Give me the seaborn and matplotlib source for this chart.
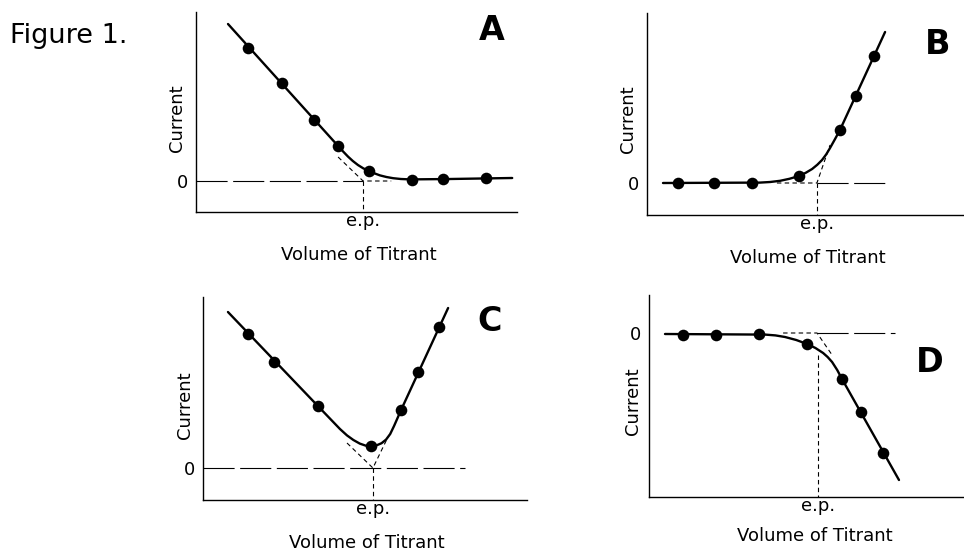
import matplotlib
matplotlib.use("Agg")
import matplotlib.pyplot as plt
import seaborn as sns

sns.set_theme(style="white")
plt.rcParams['font.family'] = ['DejaVu Sans']

# ---------------- data (x: volume of titrant, y: current; arbitrary units) ----------------
# Panel A
a_pts_x = [1.63, 2.69, 3.69, 4.44, 5.41, 6.75, 7.72, 9.06]
a_pts_y = [6.65, 4.90, 3.05, 1.75, 0.50, 0.05, 0.10, 0.15]
a_curve_x = [1.00, 4.44, 4.60, 4.75, 4.90, 5.06, 5.23, 5.41, 5.58, 5.75, 5.95, 6.16, 6.40, 6.69, 7.94, 9.88]
a_curve_y = [7.85, 1.75, 1.47, 1.22, 1.00, 0.80, 0.63, 0.50, 0.38, 0.28, 0.20, 0.14, 0.10, 0.08, 0.10, 0.15]
a_ext_x = [4.44, 5.22, 6.10]
a_ext_y = [1.20, 0.00, 0.00]
a_zero_x = [0.00, 5.22]
a_ep = 5.22
a_ep_top = 0.0

# Panel B
b_pts_x = [0.97, 2.09, 3.28, 4.75, 6.03, 6.53, 7.09]
b_pts_y = [0.00, 0.00, 0.00, 0.35, 2.65, 4.35, 6.35]
b_curve_x = [0.50, 3.53, 3.85, 4.16, 4.45, 4.75, 4.96, 5.16, 5.32, 5.47, 5.60, 5.72, 5.87, 6.03, 7.44]
b_curve_y = [0.00, 0.02, 0.05, 0.11, 0.21, 0.35, 0.51, 0.70, 0.91, 1.15, 1.43, 1.75, 2.18, 2.65, 7.55]
b_ext_x = [4.06, 5.31, 5.72]
b_ext_y = [0.00, 0.00, 1.90]
b_zero_x = [5.31, 7.50]
b_ep = 5.31
b_ep_top = 0.0

# Panel C
c_pts_x = [1.41, 2.22, 3.59, 5.25, 6.19, 6.72, 7.38]
c_pts_y = [6.70, 5.30, 3.10, 1.10, 2.90, 4.80, 7.05]
c_curve_x = [0.78, 3.59, 4.28, 4.50, 4.70, 4.90, 5.08, 5.25, 5.42, 5.58, 5.72, 5.85, 5.97, 6.19, 7.66]
c_curve_y = [7.80, 3.10, 1.95, 1.63, 1.40, 1.22, 1.12, 1.10, 1.13, 1.24, 1.42, 1.70, 2.10, 2.90, 8.00]
c_ext_x = [4.50, 5.31, 5.75]
c_ext_y = [1.25, 0.00, 1.45]
c_zero_x = [0.00, 8.19]
c_ep = 5.31
c_ep_top = 0.0

# Panel D
d_pts_x = [1.06, 2.09, 3.44, 4.94, 6.03, 6.63, 7.31]
d_pts_y = [-0.10, -0.10, -0.05, -0.55, -2.30, -3.95, -6.00]
d_curve_x = [0.50, 3.63, 3.95, 4.25, 4.60, 4.94, 5.20, 5.44, 5.58, 5.72, 5.88, 6.03, 7.81]
d_curve_y = [-0.05, -0.08, -0.12, -0.20, -0.35, -0.55, -0.75, -1.00, -1.20, -1.45, -1.85, -2.30, -7.35]
d_ext_x = [4.19, 5.25, 5.72]
d_ext_y = [0.00, 0.00, -1.10]
d_zero_x = [5.25, 7.69]
d_ep = 5.28
d_ep_top = -1.10

panel_letters = ["A", "B", "C", "D"]
x_label = "Volume of Titrant"
y_label = "Current"
ep_label = "e.p."
zero_label = "0"
fig_title = "Figure 1."

# ---------------- layout ----------------
W, H = 964, 551
fig = plt.figure(figsize=(W / 100, H / 100), dpi=100)
fig.patch.set_facecolor("white")


def box(left, top, right, bottom):
    return [left / W, 1 - bottom / H, (right - left) / W, (bottom - top) / H]


panels = [
    dict(letter=panel_letters[0], rect=box(196, 12, 517, 212), xlim=(0, 10.03), ylim=(-1.55, 8.45),
         pts=(a_pts_x, a_pts_y), curve=(a_curve_x, a_curve_y), ext=(a_ext_x, a_ext_y),
         zero=a_zero_x, ep=a_ep, ep_top=a_ep_top,
         lpos=(0.922, 0.905), ypos=(-0.059, 0.47), xpos=(0.508, -0.24)),
    dict(letter=panel_letters[1], rect=box(647, 13, 963, 215), xlim=(0, 9.875), ylim=(-1.6, 8.5),
         pts=(b_pts_x, b_pts_y), curve=(b_curve_x, b_curve_y), ext=(b_ext_x, b_ext_y),
         zero=b_zero_x, ep=b_ep, ep_top=b_ep_top,
         lpos=(0.921, 0.842), ypos=(-0.06, 0.475), xpos=(0.51, -0.238)),
    dict(letter=panel_letters[2], rect=box(203, 297, 527, 500), xlim=(0, 10.125), ylim=(-1.6, 8.55),
         pts=(c_pts_x, c_pts_y), curve=(c_curve_x, c_curve_y), ext=(c_ext_x, c_ext_y),
         zero=c_zero_x, ep=c_ep, ep_top=c_ep_top,
         lpos=(0.886, 0.877), ypos=(-0.056, 0.468), xpos=(0.506, -0.238)),
    dict(letter=panel_letters[3], rect=box(649, 295, 963, 497), xlim=(0, 9.81), ylim=(-8.2, 1.9),
         pts=(d_pts_x, d_pts_y), curve=(d_curve_x, d_curve_y), ext=(d_ext_x, d_ext_y),
         zero=d_zero_x, ep=d_ep, ep_top=d_ep_top,
         lpos=(0.895, 0.668), ypos=(-0.051, 0.475), xpos=(0.529, -0.218)),
]

for p in panels:
    ax = fig.add_axes(p["rect"])
    ax.set_facecolor("white")
    ax.set_xlim(*p["xlim"])
    ax.set_ylim(*p["ylim"])

    # reference (dashed) lines
    ax.plot(p["zero"], [0, 0], color="black", lw=0.8, dashes=(28, 5), zorder=1)
    ax.plot(p["ext"][0], p["ext"][1], color="black", lw=0.8, dashes=(4, 3), zorder=1)
    ax.plot([p["ep"], p["ep"]], [p["ep_top"], p["ylim"][0]], color="black", lw=0.8,
            dashes=(4, 3), zorder=1, clip_on=False)

    # smooth titration curve and measured points
    sns.lineplot(x=p["curve"][0], y=p["curve"][1], ax=ax, color="black", lw=1.7,
                 sort=False, estimator=None, zorder=2)
    sns.scatterplot(x=p["pts"][0], y=p["pts"][1], ax=ax, color="black", s=70,
                    linewidth=0, zorder=3)

    sns.despine(ax=ax)
    for side in ("left", "bottom"):
        ax.spines[side].set_color("black")
        ax.spines[side].set_linewidth(1.0)

    ax.set_xticks([p["ep"]])
    ax.set_xticklabels([ep_label])
    ax.set_yticks([0])
    ax.set_yticklabels([zero_label])
    ax.tick_params(axis="x", length=0, pad=0, labelsize=13, colors="black")
    ax.tick_params(axis="y", length=0, pad=6, labelsize=13, colors="black")
    ax.set_xlabel("")
    ax.set_ylabel("")

    ax.text(p["ypos"][0], p["ypos"][1], y_label, transform=ax.transAxes, rotation=90,
            ha="center", va="center", fontsize=13, color="black")
    ax.text(p["xpos"][0], p["xpos"][1], x_label, transform=ax.transAxes,
            ha="center", va="baseline", fontsize=13, color="black")
    ax.text(p["lpos"][0], p["lpos"][1], p["letter"], transform=ax.transAxes,
            ha="center", va="center", fontsize=24, fontweight="bold", color="black")

fig.text(10 / W, 1 - 43 / H, fig_title, ha="left", va="baseline", fontsize=19.5, color="black")

fig.savefig("out.png", dpi=100, facecolor="white")
